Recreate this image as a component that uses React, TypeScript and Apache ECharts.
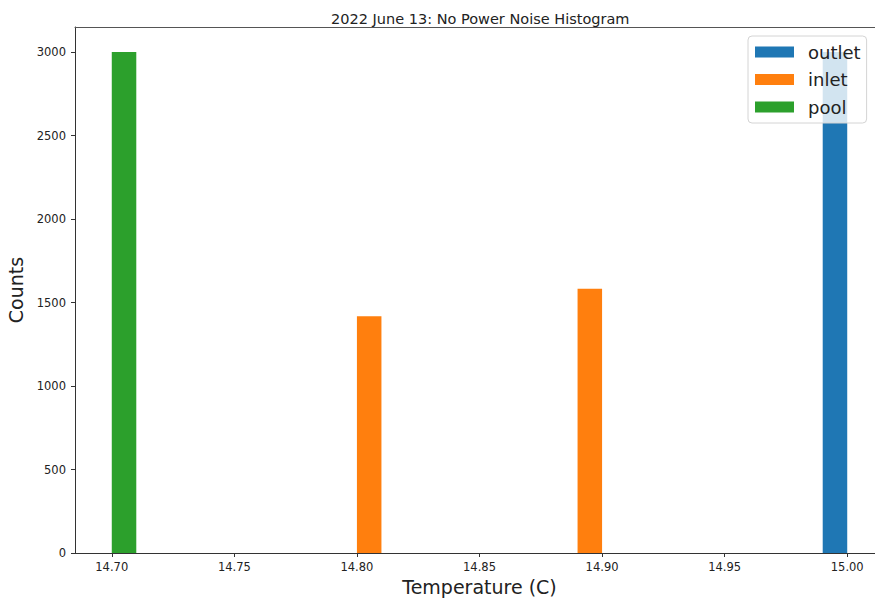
import React, { useEffect, useRef } from "react";
import * as echarts from "echarts";

// Histogram bins per sensor: left edge, right edge, count
const outletLeft = [14.99];
const outletRight = [15.0];
const outletCounts = [3000];

const inletLeft = [14.8, 14.89];
const inletRight = [14.81, 14.9];
const inletCounts = [1418, 1582];

const poolLeft = [14.7];
const poolRight = [14.71];
const poolCounts = [3000];

const xTicks = [14.7, 14.75, 14.8, 14.85, 14.9, 14.95, 15.0];
const yTicks = [0, 500, 1000, 1500, 2000, 2500, 3000];

const FONT = "DejaVu Sans";
const X_MIN = 14.685;
const X_MAX = 15.015;

const toData = (l: number[], r: number[], c: number[]) =>
  l.map((v, i) => [v, r[i], c[i]]);

const renderBin = (params: any, api: any) => {
  const p0 = api.coord([api.value(0), 0]);
  const p1 = api.coord([api.value(1), api.value(2)]);
  return {
    type: "rect",
    shape: { x: p0[0], y: p1[1], width: p1[0] - p0[0], height: p0[1] - p1[1] },
    style: { fill: api.visual("color") },
  };
};

const makeSeries = (name: string, color: string, data: number[][]) => ({
  type: "custom",
  name,
  data,
  xAxisIndex: 0,
  itemStyle: { color },
  encode: { x: [0, 1], y: 2 },
  renderItem: renderBin,
});

export default function App() {
  const ref = useRef<HTMLDivElement>(null);

  useEffect(() => {
    if (!ref.current) return;
    const chart = echarts.init(ref.current, undefined, { renderer: "svg" });
    chart.setOption({
      animation: false,
      backgroundColor: "#ffffff",
      title: {
        text: "2022 June 13: No Power Noise Histogram",
        left: 326,
        top: 6,
        textStyle: { fontFamily: FONT, fontSize: 14.5, fontWeight: "normal", color: "#222" },
      },
      // the plot frame continues past the right edge of the page
      grid: {
        left: 75,
        top: 27,
        bottom: 45,
        right: -9,
        outerBoundsMode: "none",
        containLabel: false,
        show: false,
      },
      legend: {
        orient: "vertical",
        left: 748,
        top: 36,
        itemWidth: 39,
        itemHeight: 11,
        itemGap: 7.5,
        padding: [6, 6, 6, 7],
        backgroundColor: "rgba(255,255,255,0.8)",
        borderColor: "#d4d4d4",
        borderWidth: 1,
        borderRadius: 4,
        textStyle: { fontFamily: FONT, fontSize: 18, color: "#222", lineHeight: 20, padding: [0, 0, 0, 9] },
        data: [
          { name: "outlet", icon: "rect" },
          { name: "inlet", icon: "rect" },
          { name: "pool", icon: "rect" },
        ],
      },
      xAxis: [
        {
          type: "value",
          position: "bottom",
          min: X_MIN,
          max: X_MAX,
          name: "Temperature (C)",
          nameLocation: "middle",
          nameGap: 24,
          nameTextStyle: { fontFamily: FONT, fontSize: 19, color: "#222" },
          splitLine: { show: false },
          axisLine: { show: true, lineStyle: { color: "#333", width: 1 } },
          axisTick: { show: true, length: 4, inside: false, customValues: xTicks, lineStyle: { color: "#333" } },
          axisLabel: {
            customValues: xTicks,
            margin: 8,
            fontFamily: FONT,
            fontSize: 11.5,
            color: "#222",
            formatter: (v: number) => v.toFixed(2),
          },
        },
        {
          // top spine only
          type: "value",
          position: "top",
          min: X_MIN,
          max: X_MAX,
          splitLine: { show: false },
          axisLine: { show: true, lineStyle: { color: "#555", width: 1 } },
          axisTick: { show: false },
          axisLabel: { show: false },
        },
      ],
      yAxis: {
        type: "value",
        min: 0,
        max: 3150,
        name: "Counts",
        nameLocation: "middle",
        nameGap: 46,
        nameTextStyle: { fontFamily: FONT, fontSize: 19, color: "#222" },
        splitLine: { show: false },
        axisLine: { show: true, lineStyle: { color: "#333", width: 1 } },
        axisTick: { show: true, length: 4, inside: false, customValues: yTicks, lineStyle: { color: "#333" } },
        axisLabel: {
          customValues: yTicks,
          margin: 9,
          fontFamily: FONT,
          fontSize: 11.5,
          color: "#222",
          formatter: (v: number) => String(v),
        },
      },
      series: [
        makeSeries("outlet", "#1f77b4", toData(outletLeft, outletRight, outletCounts)),
        makeSeries("inlet", "#ff7f0e", toData(inletLeft, inletRight, inletCounts)),
        makeSeries("pool", "#2ca02c", toData(poolLeft, poolRight, poolCounts)),
      ],
    });
    return () => chart.dispose();
  }, []);

  return (
    <div
      ref={ref}
      style={{ position: "absolute", left: 0, top: 0, width: 875, height: 598 }}
    />
  );
}
